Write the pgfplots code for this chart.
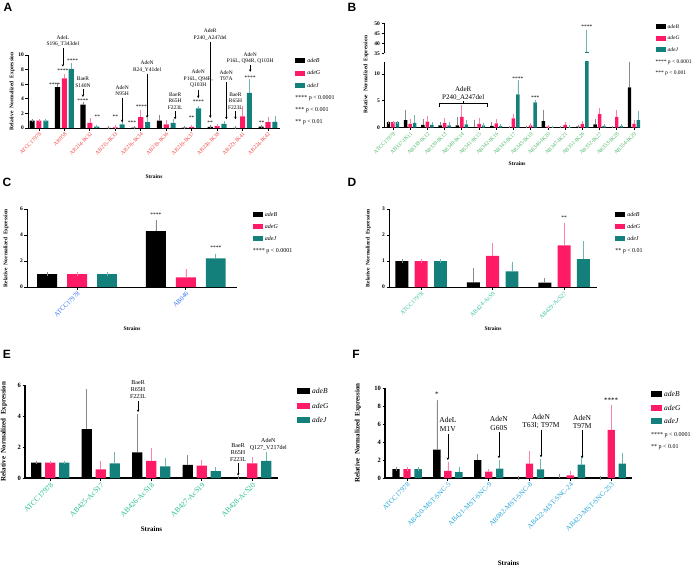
\documentclass[border=0pt]{standalone}
\usepackage{pgfplots}
\usepackage{pgfplotstable}
\pgfplotsset{compat=1.18}
\usetikzlibrary{arrows.meta}
\usepackage{fontspec}
\setmainfont{Liberation Serif}
\newfontfamily\panelfont{Liberation Sans}

\definecolor{cB}{HTML}{000000}
\definecolor{cG}{HTML}{FF1A66}
\definecolor{cJ}{HTML}{13807C}
\definecolor{eB}{HTML}{8A8A8A}
\definecolor{eG}{HTML}{FF80A8}
\definecolor{eJ}{HTML}{6DB6B2}
\definecolor{labA}{HTML}{F0403C}
\definecolor{labB}{HTML}{48B868}
\definecolor{labC}{HTML}{2F6BFF}
\definecolor{labD}{HTML}{30C0A0}
\definecolor{labE}{HTML}{22BF8C}
\definecolor{labF}{HTML}{22A6D8}

\newcommand{\fs}[1]{\fontsize{#1}{#1}\selectfont}

\pgfplotsset{
  panel/.style={
    scale only axis, axis lines=left, axis line style={line width=0.9pt,-},
    ymin=0, clip=false,
    tick align=outside, major tick length=2.5pt,
    every tick/.style={black, line width=0.8pt},
    /pgf/number format/assume math mode=true,
    y tick label style={font=\bfseries\fs{5.5}, inner sep=1.5pt},
    x tick label style={rotate=45, anchor=north east, inner sep=1pt},
    ylabel={Relative\ \ Normalized\ \ Expression},
    xlabel={Strains},
    label style={font=\bfseries\fs{5.5}},
    legend cell align=left,
    legend style={draw=none, fill=none, font=\itshape\fs{6}, anchor=north west,
      row sep=2.5pt, inner sep=0pt, /tikz/every even column/.append style={column sep=2pt}},
    legend image code/.code={\fill[##1] (0pt,-2pt) rectangle (10pt,3pt);},
  },
  barB/.style={ybar, bar width=#1, bar shift=0, fill=cB, draw=none,
     error bars/.cd, y dir=plus, y explicit, error mark=-, error bar style={eB, line width=0.7pt},
     error mark options={eB, line width=0.7pt, mark size=1.6pt}},
  barG/.style={ybar, bar width=#1, bar shift=0, fill=cG, draw=none,
     error bars/.cd, y dir=plus, y explicit, error mark=-, error bar style={eG, line width=0.7pt},
     error mark options={eG, line width=0.7pt, mark size=1.6pt}},
  barJ/.style={ybar, bar width=#1, bar shift=0, fill=cJ, draw=none,
     error bars/.cd, y dir=plus, y explicit, error mark=-, error bar style={eJ, line width=0.7pt},
     error mark options={eJ, line width=0.7pt, mark size=1.6pt}},
}
\tikzset{
  annA/.style={font=\fontsize{5.5}{6.5}\selectfont, align=center, inner sep=0.5pt, anchor=south},
  annF/.style={font=\fontsize{7.5}{8.5}\selectfont, align=center, inner sep=0.5pt, anchor=south},
  star/.style={font=\fs{5.5}, inner sep=0pt},
  arr/.style={-{Stealth[length=2.5pt,width=2.5pt]}, line width=0.6pt},
  plet/.style={font=\panelfont\bfseries\fs{12}},
}

\pgfplotstableread{
x B eB G eG J eJ
0 1 0 1 0 1 0
1 5.6 0.3 6.8 0.4 8.1 0.6
2 3.2 0.2 0.7 0.4 0.2 0.05
3 0.02 0 0.1 0.05 0.5 0.2
4 0.05 0 1.5 0.8 0.8 0.3
5 1.0 0.6 0.5 0.4 0.7 0.35
6 0.05 0 0.15 0.1 2.7 0.1
7 0.15 0.05 0.25 0.1 0.55 0.15
8 0.02 0 1.6 1.2 4.8 1.7
9 0.2 0.05 0.8 0.5 0.85 0.6
}\tA

\pgfplotstableread{
x B eB G eG J eJ
0 1 0 1 0 1 0
1 1.4 1.6 0.7 0.6 0.9 1.1
2 0.5 0.8 1.1 0.8 0.5 0.3
3 0.4 0.4 0.9 0.5 0.4 0.4
4 0.4 1.3 2.0 1.9 0.6 0.5
5 0.1 1.1 0.7 0.7 0.4 0.1
6 0.3 0.4 0.8 0.5 0.3 0.1
7 0.05 0 1.7 0.5 6.2 2.3
8 0.05 0 0.4 0.1 4.7 0.2
9 1.2 1.8 0.2 0.05 0.05 0
10 0.05 0 0.5 0.2 0.1 0
11 0.2 0 0.7 0.2 35.5 10.5
12 0.6 0.7 2.5 0.8 0.3 0.05
13 0.05 0 2.0 0.9 0.3 0.1
14 7.5 4.5 0.7 0.4 1.4 1.4
}\tB

\pgfplotstableread{
x B eB G eG J eJ
0 1 0 1 0 1 0
1 4.3 0.75 0.75 0.55 2.2 0.25
}\tC

\pgfplotstableread{
x B eB G eG J eJ
0 1 0 1 0 1 0
1 0.18 0.5 1.2 0.45 0.6 0.3
2 0.17 0.11 1.6 0.8 1.07 0.63
}\tD

\pgfplotstableread{
x B eB G eG J eJ
0 1 0 1 0 1 0
1 3.15 2.5 0.55 0.45 0.95 0.6
2 1.65 2.35 1.1 0.75 0.75 0.45
3 0.85 0.5 0.8 0.25 0.45 0.15
4 0.03 0 0.95 0.3 1.1 0.5
}\tE

\pgfplotstableread{
x B eB G eG J eJ
0 1 0 1 0 1 0
1 3.15 5.35 0.8 0.8 0.65 0.4
2 2.0 0.5 0.7 0.1 1.05 0.8
3 0 0 1.6 1.2 0.95 0.95
4 0.02 0.2 0.3 0.3 1.5 0.8
5 0 0 5.35 2.55 1.6 0.95
}\tF

\begin{document}
\begin{tikzpicture}
\useasboundingbox (0pt,0pt) rectangle (695pt,-566pt);

% ---------------- A
\node[plet] at (8pt,-7pt) {A};
\begin{axis}[panel, at={(28pt,-128pt)}, anchor=south west, width=252pt, height=73pt,
  xmin=-0.43, xmax=9.47, ymax=10, ytick={0,2,...,10},
  xtick={0,...,9}, xticklabels={ATCC17978,AB058,AB214-IK32,AB215-IK33,AB216-IK34,AB218-IK36,AB219-IK37,AB220-IK38,AB223-IK41,AB224-IK42},
  x tick label style={font=\fs{5.5}, text=labA},
  xlabel style={at={(axis description cs:0.5,-0.66)}, anchor=center},
  ylabel style={at={(axis description cs:-0.063,0.5)}, anchor=center},
  legend style={at={(axis description cs:1.06,0.98)}},
]
\addplot[barB=0.2] table[x expr=\thisrow{x}-0.27,y=B,y error=eB]{\tA}; \addlegendentry{adeB}
\addplot[barG=0.2] table[x=x,y=G,y error=eG]{\tA}; \addlegendentry{adeG}
\addplot[barJ=0.2] table[x expr=\thisrow{x}+0.27,y=J,y error=eJ]{\tA}; \addlegendentry{adeJ}
\addlegendimage{empty legend}\addlegendentry{\upshape\hspace*{-12pt}**** p < 0.0001}
\addlegendimage{empty legend}\addlegendentry{\upshape\hspace*{-12pt}*** p < 0.001}
\addlegendimage{empty legend}\addlegendentry{\upshape\hspace*{-12pt}** p < 0.01}
\node[annA] at (axis cs:0.94,11.1) {AdeL\\S196\_T343del};
\draw[arr] (axis cs:0.94,11.0) -- (axis cs:0.94,8.4);
\node[star] at (axis cs:0.62,5.9) {****};
\node[star] at (axis cs:0.94,7.8) {****};
\node[star] at (axis cs:1.32,9.2) {****};
\node[annA] at (axis cs:1.73,5.5) {BaeR\\S140N};
\draw[arr] (axis cs:1.73,5.35) -- (axis cs:1.73,4.25);
\node[star] at (axis cs:1.73,3.8) {****};
\node[star] at (axis cs:2.3,1.5) {**};
\node[star] at (axis cs:3.0,1.5) {**};
\node[annA] at (axis cs:3.27,4.3) {AdeN\\N95H};
\draw[arr] (axis cs:3.27,4.15) -- (axis cs:3.27,0.8);
\node[star] at (axis cs:3.66,0.7) {***};
\node[star] at (axis cs:4.02,2.9) {****};
\node[annA] at (axis cs:4.25,7.55) {AdeN\\R24\_Y41del};
\draw[arr] (axis cs:4.25,7.45) -- (axis cs:4.25,1.4);
\node[annA] at (axis cs:5.35,2.5) {BaeR\\R65H\\F223L};
\draw[arr] (axis cs:5.35,2.35) -- (axis cs:5.35,1.2);
\node[star] at (axis cs:6.0,1.35) {**};
\node[annA] at (axis cs:6.26,5.4) {AdeN\\P16L, Q94R,\\Q103H};
\draw[arr] (axis cs:6.26,5.25) -- (axis cs:6.26,4.1);
\node[star] at (axis cs:6.26,3.65) {****};
\node[annA] at (axis cs:6.73,11.95) {AdeR\\P240\_A247del};
\draw[arr] (axis cs:6.73,11.85) -- (axis cs:6.73,1.4);
\node[star] at (axis cs:6.73,0.7) {**};
\node[annA] at (axis cs:7.36,6.35) {AdeN\\T97A};
\draw[arr] (axis cs:7.36,6.25) -- (axis cs:7.36,1.2);
\node[annA] at (axis cs:7.72,2.5) {BaeR\\R65H\\F223L};
\draw[arr] (axis cs:7.72,2.35) -- (axis cs:7.72,1.2);
\node[annA] at (axis cs:8.3,8.7) {AdeN\\P16L, Q94R, Q103H};
\draw[arr] (axis cs:8.3,8.6) -- (axis cs:8.3,7.7);
\node[star] at (axis cs:8.3,6.85) {****};
\node[star] at (axis cs:8.75,0.7) {**};
\end{axis}

% ---------------- B
\node[plet] at (352pt,-7pt) {B};
\begin{axis}[panel, at={(384pt,-127.6pt)}, anchor=south west, width=256pt, height=66pt, clip=true,
  xmin=-0.52, xmax=14.35, ymax=12.3, ytick={0,5,10},
  xtick={0,...,14}, xticklabels={ATCC17978,AB337-IK11,AB338-IK12,AB339-IK13,AB340-IK14,AB341-IK15,AB342-IK16,AB343-IK17,AB345-IK19,AB346-IK20,AB347-IK21,AB351-IK26,AB352-IK27,AB353-IK28,AB354-IK29},
  x tick label style={font=\fs{5.5}, text=labB},
  xlabel style={at={(axis description cs:0.52,-0.54)}, anchor=center},
  ylabel style={at={(axis description cs:-0.07,0.8)}, anchor=center},
  legend style={at={(axis description cs:1.06,1.6)}, font=\itshape\fs{5.5}},
]
\addplot[barB=0.2] table[x expr=\thisrow{x}-0.26,y=B,y error=eB]{\tB}; \addlegendentry{adeB}
\addplot[barG=0.2] table[x=x,y=G,y error=eG]{\tB}; \addlegendentry{adeG}
\addplot[barJ=0.2] table[x expr=\thisrow{x}+0.26,y=J,y error=eJ]{\tB}; \addlegendentry{adeJ}
\addlegendimage{empty legend}\addlegendentry{\upshape\hspace*{-12pt}**** p < 0.0001}
\addlegendimage{empty legend}\addlegendentry{\upshape\hspace*{-12pt}*** p < 0.001}
\node[star] at (axis cs:7.26,9.2) {****};
\node[star] at (axis cs:8.26,5.6) {***};
\draw[line width=0.5pt] (axis cs:2.67,3.8) -- (axis cs:2.67,4.6) -- (axis cs:5.5,4.6) -- (axis cs:5.5,3.8);
\draw[line width=0.5pt] (axis cs:4.08,4.6) -- (axis cs:4.08,4.9);
\node[font=\fontsize{7}{8}\selectfont, align=center, inner sep=0.5pt, anchor=south] at (axis cs:4.08,4.9) {AdeR\\P240\_A247del};
\end{axis}
\begin{axis}[panel, at={(384pt,-53.3pt)}, anchor=south west, width=256pt, height=30pt, clip=true,
  axis x line=none, xmin=-0.52, xmax=14.35, ymin=35, ymax=50, ytick={35,40,45,50},
  xlabel={}, ylabel={}]
\addplot[barJ=0.2] coordinates {(11.26,35.5) +- (0,10.5)};
\node[star] at (axis cs:11.26,48.2) {****};
\end{axis}

% ---------------- C
\node[plet] at (7pt,-182pt) {C};
\begin{axis}[panel, at={(27pt,-287pt)}, anchor=south west, width=210pt, height=78pt,
  xmin=-0.46, xmax=1.47, ymax=6, ytick={0,2,4,6},
  xtick={0,1}, xticklabels={ATCC17978,AB046},
  x tick label style={font=\fs{6.5}, text=labC},
  xlabel style={at={(axis description cs:0.5,-0.53)}, anchor=center},
  ylabel style={at={(axis description cs:-0.1,0.5)}, anchor=center},
  legend style={at={(axis description cs:1.075,0.99)}},
]
\addplot[barB=0.183] table[x expr=\thisrow{x}-0.275,y=B,y error=eB]{\tC}; \addlegendentry{adeB}
\addplot[barG=0.183] table[x=x,y=G,y error=eG]{\tC}; \addlegendentry{adeG}
\addplot[barJ=0.183] table[x expr=\thisrow{x}+0.275,y=J,y error=eJ]{\tC}; \addlegendentry{adeJ}
\addlegendimage{empty legend}\addlegendentry{\upshape\hspace*{-12pt}**** p < 0.0001}
\node[star] at (axis cs:0.725,5.6) {****};
\node[star] at (axis cs:1.275,3.0) {****};
\end{axis}

% ---------------- D
\node[plet] at (352pt,-182pt) {D};
\begin{axis}[panel, at={(389pt,-287pt)}, anchor=south west, width=208pt, height=78pt,
  xmin=-0.45, xmax=2.46, ymax=3, ytick={0,1,2,3},
  xtick={0,1,2}, xticklabels={ATCC17978,AB424-AcS9,AB429-AcS27},
  x tick label style={font=\fs{6}, text=labD},
  xlabel style={at={(axis description cs:0.5,-0.53)}, anchor=center},
  ylabel style={at={(axis description cs:-0.1,0.5)}, anchor=center},
  legend style={at={(axis description cs:1.087,0.99)}},
]
\addplot[barB=0.18] table[x expr=\thisrow{x}-0.27,y=B,y error=eB]{\tD}; \addlegendentry{adeB}
\addplot[barG=0.18] table[x=x,y=G,y error=eG]{\tD}; \addlegendentry{adeG}
\addplot[barJ=0.18] table[x expr=\thisrow{x}+0.27,y=J,y error=eJ]{\tD}; \addlegendentry{adeJ}
\addlegendimage{empty legend}\addlegendentry{\upshape\hspace*{-12pt}** p < 0.01}
\node[star] at (axis cs:2,2.65) {**};
\end{axis}

% ---------------- E
\node[plet] at (7pt,-354pt) {E};
\begin{axis}[panel, at={(25pt,-478pt)}, anchor=south west, width=253pt, height=93pt,
  xmin=-0.5, xmax=4.51, ymax=6, ytick={0,2,4,6},
  axis line style={line width=1.1pt,-},
  y tick label style={font=\bfseries\fs{6.5}},
  xtick={0,...,4}, xticklabels={ATCC17978,AB425-AcS17,AB426-AcS18,AB427-AcS19,AB428-AcS20},
  x tick label style={font=\fs{7.5}, text=labE},
  label style={font=\bfseries\fs{7}},
  xlabel style={at={(axis description cs:0.5,-0.55)}, anchor=center},
  ylabel style={at={(axis description cs:-0.083,0.5)}, anchor=center},
  legend style={at={(axis description cs:1.075,0.99)}, font=\itshape\fs{7.5}, row sep=4pt},
  legend image code/.code={\fill[#1] (0pt,-2.5pt) rectangle (13pt,3.5pt);},
]
\addplot[barB=0.2] table[x expr=\thisrow{x}-0.277,y=B,y error=eB]{\tE}; \addlegendentry{adeB}
\addplot[barG=0.2] table[x=x,y=G,y error=eG]{\tE}; \addlegendentry{adeG}
\addplot[barJ=0.2] table[x expr=\thisrow{x}+0.277,y=J,y error=eJ]{\tE}; \addlegendentry{adeJ}
\node[annA, font=\fontsize{6}{7}\selectfont] at (axis cs:1.74,5.1) {BaeR\\R65H\\F223L};
\draw[arr] (axis cs:1.74,5.0) -- (axis cs:1.74,4.25);
\node[annA, font=\fontsize{6}{7}\selectfont] at (axis cs:3.72,1.0) {BaeR\\R65H\\F223L};
\draw[arr] (axis cs:3.72,0.95) -- (axis cs:3.72,0.15);
\node[annA, font=\fontsize{6}{7}\selectfont] at (axis cs:4.32,1.75) {AdeN\\Q127\_V217del};
\end{axis}

% ---------------- F
\node[plet] at (356pt,-354pt) {F};
\begin{axis}[panel, at={(385pt,-478pt)}, anchor=south west, width=247pt, height=90pt,
  xmin=-0.54, xmax=5.51, ymax=10, ytick={0,2,...,10},
  axis line style={line width=1.1pt,-},
  y tick label style={font=\bfseries\fs{6.5}},
  xtick={0,...,5}, xticklabels={ATCC17978,AB420-MST-SNC-5,AB421-MST-SNC-9,AB082-MST-SNC-8,AB422-MST-SNC-24,AB423-MST-SNC-253},
  x tick label style={font=\fs{7}, text=labF},
  label style={font=\bfseries\fs{7}},
  xlabel style={at={(axis description cs:0.5,-0.94)}, anchor=center},
  ylabel style={at={(axis description cs:-0.11,0.5)}, anchor=center},
  legend style={at={(axis description cs:1.077,0.99)}, font=\itshape\fs{7.5}, row sep=3pt},
  legend image code/.code={\fill[#1] (0pt,-2.5pt) rectangle (11pt,3.5pt);},
]
\addplot[barB=0.18] table[x expr=\thisrow{x}-0.27,y=B,y error=eB]{\tF}; \addlegendentry{adeB}
\addplot[barG=0.18] table[x=x,y=G,y error=eG]{\tF}; \addlegendentry{adeG}
\addplot[barJ=0.18] table[x expr=\thisrow{x}+0.27,y=J,y error=eJ]{\tF}; \addlegendentry{adeJ}
\addlegendimage{empty legend}\addlegendentry{\upshape\fs{6}\hspace*{-13pt}**** p < 0.0001}
\addlegendimage{empty legend}\addlegendentry{\upshape\fs{6}\hspace*{-13pt}** p < 0.01}
\node[star, font=\fs{7}] at (axis cs:0.73,9.3) {*};
\node[annF] at (axis cs:1.0,5.1) {AdeL\\M1V};
\draw[arr] (axis cs:1.0,4.9) -- (axis cs:1.0,2.0);
\node[annF] at (axis cs:2.25,5.2) {AdeN\\G60S};
\draw[arr] (axis cs:2.25,5.1) -- (axis cs:2.25,2.2);
\node[annF] at (axis cs:3.28,5.4) {AdeN\\T63I; T97M};
\draw[arr] (axis cs:3.28,5.3) -- (axis cs:3.28,2.3);
\node[annF] at (axis cs:4.29,5.4) {AdeN\\T97M};
\draw[arr] (axis cs:4.29,5.3) -- (axis cs:4.29,2.2);
\node[star, font=\fs{7}] at (axis cs:5.0,8.7) {****};
\end{axis}
\end{tikzpicture}
\end{document}
